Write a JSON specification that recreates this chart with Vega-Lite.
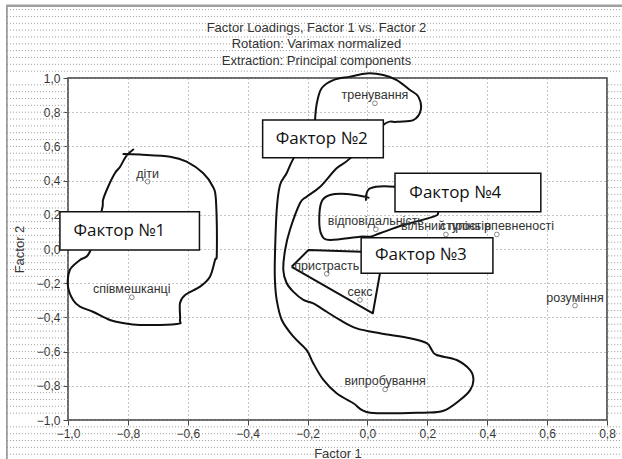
{
  "$schema": "https://vega.github.io/schema/vega-lite/v6.json",
  "width": 539,
  "height": 342,
  "autosize": {"type": "none"},
  "padding": {"left": 68, "top": 78, "right": 15, "bottom": 39},
  "background": "white",
  "title": {
    "text": "Factor Loadings, Factor 1 vs. Factor 2",
    "subtitle": ["Rotation: Varimax normalized", "Extraction: Principal components"],
    "anchor": "middle",
    "dx": -21,
    "offset": -64,
    "font": "Liberation Sans",
    "fontSize": 13,
    "fontWeight": "normal",
    "color": "#333333",
    "subtitleFont": "Liberation Sans",
    "subtitleFontSize": 13,
    "subtitleColor": "#333333",
    "subtitleLineHeight": 17,
    "subtitlePadding": 3
  },
  "config": {
    "view": {"stroke": "#3a3a3a", "strokeWidth": 1.5},
    "axis": {
      "labelFont": "Liberation Sans",
      "labelFontSize": 12,
      "labelColor": "#333333",
      "titleFont": "Liberation Sans",
      "titleFontSize": 13,
      "titleFontWeight": "normal",
      "titleColor": "#333333",
      "tickColor": "#444444",
      "tickSize": 5,
      "domain": false,
      "grid": true,
      "gridColor": "#8a8a8a",
      "gridDash": [1, 3],
      "gridWidth": 1,
      "tickCount": 10,
      "labelExpr": "replace(format(datum.value, '.1f'), '.', ',')"
    },
    "axisX": {"labelPadding": 3, "titlePadding": 8, "labelFlush": false},
    "axisY": {"labelPadding": 3, "titlePadding": 10}
  },
  "datasets": {
    "bg": [
      {"y": 1.40}, {"y": 1.36}, {"y": 1.32}, {"y": 1.28}, {"y": 1.24}, {"y": 1.20}, {"y": 1.16}, {"y": 1.12}, {"y": 1.08}, {"y": 1.04},
      {"y": 0.96}, {"y": 0.92}, {"y": 0.88}, {"y": 0.84}, {"y": 0.80}, {"y": 0.76}, {"y": 0.72}, {"y": 0.68}, {"y": 0.64}, {"y": 0.60},
      {"y": 0.56}, {"y": 0.52}, {"y": 0.48}, {"y": 0.44}, {"y": 0.40}, {"y": 0.36}, {"y": 0.32}, {"y": 0.28}, {"y": 0.24}, {"y": 0.20},
      {"y": 0.16}, {"y": 0.12}, {"y": 0.08}, {"y": 0.04}, {"y": 0.00}, {"y": -0.04}, {"y": -0.08}, {"y": -0.12}, {"y": -0.16}, {"y": -0.20},
      {"y": -0.24}, {"y": -0.28}, {"y": -0.32}, {"y": -0.36}, {"y": -0.40}, {"y": -0.44}, {"y": -0.48}, {"y": -0.52}, {"y": -0.56}, {"y": -0.60},
      {"y": -0.64}, {"y": -0.68}, {"y": -0.72}, {"y": -0.76}, {"y": -0.80}, {"y": -0.84}, {"y": -0.88}, {"y": -0.92}, {"y": -0.96},
      {"y": -1.04}, {"y": -1.08}, {"y": -1.12}, {"y": -1.16}, {"y": -1.20}
    ],
    "points": [
      {"x": -0.734, "y": 0.394, "label": "діти"},
      {"x": -0.787, "y": -0.282, "label": "співмешканці"},
      {"x": 0.025, "y": 0.852, "label": "тренування"},
      {"x": 0.028, "y": 0.115, "label": "відповідальність"},
      {"x": 0.262, "y": 0.085, "label": "вільний простір"},
      {"x": 0.432, "y": 0.085, "label": "ступінь впевненості"},
      {"x": -0.136, "y": -0.145, "label": "пристрасть"},
      {"x": -0.025, "y": -0.298, "label": "секс"},
      {"x": 0.693, "y": -0.331, "label": "розуміння"},
      {"x": 0.059, "y": -0.821, "label": "випробування"}
    ],
    "outlines": [
      {"g": "f1", "i": 1, "x": -0.815, "y": 0.556},
      {"g": "f1", "i": 2, "x": -0.760, "y": 0.552},
      {"g": "f1", "i": 3, "x": -0.659, "y": 0.540},
      {"g": "f1", "i": 4, "x": -0.604, "y": 0.511},
      {"g": "f1", "i": 5, "x": -0.549, "y": 0.444},
      {"g": "f1", "i": 6, "x": -0.516, "y": 0.364},
      {"g": "f1", "i": 7, "x": -0.506, "y": 0.287},
      {"g": "f1", "i": 8, "x": -0.503, "y": -0.023},
      {"g": "f1", "i": 9, "x": -0.509, "y": -0.064},
      {"g": "f1", "i": 10, "x": -0.526, "y": -0.162},
      {"g": "f1", "i": 11, "x": -0.559, "y": -0.220},
      {"g": "f1", "i": 12, "x": -0.609, "y": -0.269},
      {"g": "f1", "i": 13, "x": -0.626, "y": -0.316},
      {"g": "f1", "i": 14, "x": -0.626, "y": -0.415},
      {"g": "f1", "i": 15, "x": -0.637, "y": -0.439},
      {"g": "f1", "i": 16, "x": -0.760, "y": -0.444},
      {"g": "f1", "i": 17, "x": -0.816, "y": -0.433},
      {"g": "f1", "i": 18, "x": -0.860, "y": -0.415},
      {"g": "f1", "i": 19, "x": -0.917, "y": -0.367},
      {"g": "f1", "i": 20, "x": -0.960, "y": -0.337},
      {"g": "f1", "i": 21, "x": -0.983, "y": -0.298},
      {"g": "f1", "i": 22, "x": -1.000, "y": -0.220},
      {"g": "f1", "i": 23, "x": -0.994, "y": -0.123},
      {"g": "f1", "i": 24, "x": -0.960, "y": -0.064},
      {"g": "f1", "i": 25, "x": -0.927, "y": -0.016},
      {"g": "f1", "i": 26, "x": -0.887, "y": 0.228},
      {"g": "f1", "i": 27, "x": -0.883, "y": 0.287},
      {"g": "f1", "i": 28, "x": -0.866, "y": 0.364},
      {"g": "f1", "i": 29, "x": -0.843, "y": 0.444},
      {"g": "f1", "i": 30, "x": -0.826, "y": 0.481},
      {"g": "f1", "i": 31, "x": -0.805, "y": 0.545},
      {"g": "f1", "i": 32, "x": -0.782, "y": 0.582},
      {"g": "f2", "i": 1, "x": -0.175, "y": 0.754},
      {"g": "f2", "i": 2, "x": -0.169, "y": 0.852},
      {"g": "f2", "i": 3, "x": -0.153, "y": 0.940},
      {"g": "f2", "i": 4, "x": -0.114, "y": 0.988},
      {"g": "f2", "i": 5, "x": -0.058, "y": 1.008},
      {"g": "f2", "i": 6, "x": -0.002, "y": 1.027},
      {"g": "f2", "i": 7, "x": 0.053, "y": 1.018},
      {"g": "f2", "i": 8, "x": 0.098, "y": 0.988},
      {"g": "f2", "i": 9, "x": 0.142, "y": 0.930},
      {"g": "f2", "i": 10, "x": 0.170, "y": 0.891},
      {"g": "f2", "i": 11, "x": 0.178, "y": 0.813},
      {"g": "f2", "i": 12, "x": 0.153, "y": 0.754},
      {"g": "f2", "i": 13, "x": 0.098, "y": 0.744},
      {"g": "f2", "i": 14, "x": 0.053, "y": 0.725},
      {"g": "f2", "i": 15, "x": -0.058, "y": 0.530},
      {"g": "f2", "i": 16, "x": -0.103, "y": 0.472},
      {"g": "f2", "i": 17, "x": -0.158, "y": 0.364},
      {"g": "f2", "i": 18, "x": -0.203, "y": 0.306},
      {"g": "f2", "i": 19, "x": -0.225, "y": 0.269},
      {"g": "f2", "i": 20, "x": -0.259, "y": 0.111},
      {"g": "f2", "i": 21, "x": -0.275, "y": -0.006},
      {"g": "f2", "i": 22, "x": -0.281, "y": -0.123},
      {"g": "f2", "i": 23, "x": -0.270, "y": -0.199},
      {"g": "f2", "i": 24, "x": -0.247, "y": -0.251},
      {"g": "f2", "i": 25, "x": -0.214, "y": -0.298},
      {"g": "f2", "i": 26, "x": -0.181, "y": -0.318},
      {"g": "f2", "i": 27, "x": -0.136, "y": -0.367},
      {"g": "f2", "i": 28, "x": -0.092, "y": -0.415},
      {"g": "f2", "i": 29, "x": -0.036, "y": -0.464},
      {"g": "f2", "i": 30, "x": 0.042, "y": -0.493},
      {"g": "f2", "i": 31, "x": 0.142, "y": -0.522},
      {"g": "f2", "i": 32, "x": 0.198, "y": -0.551},
      {"g": "f2", "i": 33, "x": 0.215, "y": -0.591},
      {"g": "f2", "i": 34, "x": 0.231, "y": -0.620},
      {"g": "f2", "i": 35, "x": 0.298, "y": -0.649},
      {"g": "f2", "i": 36, "x": 0.343, "y": -0.708},
      {"g": "f2", "i": 37, "x": 0.354, "y": -0.766},
      {"g": "f2", "i": 38, "x": 0.343, "y": -0.825},
      {"g": "f2", "i": 39, "x": 0.309, "y": -0.883},
      {"g": "f2", "i": 40, "x": 0.254, "y": -0.946},
      {"g": "f2", "i": 41, "x": 0.187, "y": -0.957},
      {"g": "f2", "i": 42, "x": 0.009, "y": -0.957},
      {"g": "f2", "i": 43, "x": -0.047, "y": -0.902},
      {"g": "f2", "i": 44, "x": -0.103, "y": -0.844},
      {"g": "f2", "i": 45, "x": -0.147, "y": -0.766},
      {"g": "f2", "i": 46, "x": -0.181, "y": -0.668},
      {"g": "f2", "i": 47, "x": -0.203, "y": -0.591},
      {"g": "f2", "i": 48, "x": -0.247, "y": -0.513},
      {"g": "f2", "i": 49, "x": -0.286, "y": -0.415},
      {"g": "f2", "i": 50, "x": -0.303, "y": -0.298},
      {"g": "f2", "i": 51, "x": -0.309, "y": -0.181},
      {"g": "f2", "i": 52, "x": -0.309, "y": -0.045},
      {"g": "f2", "i": 53, "x": -0.303, "y": 0.228},
      {"g": "f2", "i": 54, "x": -0.292, "y": 0.374},
      {"g": "f2", "i": 55, "x": -0.270, "y": 0.443},
      {"g": "f2", "i": 56, "x": -0.247, "y": 0.530},
      {"g": "f2", "i": 57, "x": -0.175, "y": 0.754},
      {"g": "f4", "i": 1, "x": -0.005, "y": 0.287},
      {"g": "f4", "i": 2, "x": 0.009, "y": 0.355},
      {"g": "f4", "i": 3, "x": 0.092, "y": 0.364},
      {"g": "f4", "i": 4, "x": 0.242, "y": 0.316},
      {"g": "f4", "i": 5, "x": 0.237, "y": 0.218},
      {"g": "f4", "i": 6, "x": 0.220, "y": 0.189},
      {"g": "f4", "i": 7, "x": 0.120, "y": 0.140},
      {"g": "f4", "i": 8, "x": 0.042, "y": 0.092},
      {"g": "f4", "i": 9, "x": 0.009, "y": 0.072},
      {"g": "f4", "i": 10, "x": -0.025, "y": 0.072},
      {"g": "f4", "i": 11, "x": -0.125, "y": 0.053},
      {"g": "f4", "i": 12, "x": -0.153, "y": 0.082},
      {"g": "f4", "i": 13, "x": -0.161, "y": 0.170},
      {"g": "f4", "i": 14, "x": -0.153, "y": 0.277},
      {"g": "f4", "i": 15, "x": -0.125, "y": 0.316},
      {"g": "f4", "i": 16, "x": -0.069, "y": 0.322},
      {"g": "f4", "i": 17, "x": -0.008, "y": 0.306},
      {"g": "f4", "i": 18, "x": 0.004, "y": 0.300}
    ],
    "triangle": [
      {"i": 1, "x": -0.253, "y": -0.104},
      {"i": 2, "x": -0.197, "y": -0.006},
      {"i": 3, "x": -0.019, "y": -0.016},
      {"i": 4, "x": 0.054, "y": -0.023},
      {"i": 5, "x": 0.018, "y": -0.376},
      {"i": 6, "x": -0.253, "y": -0.104}
    ],
    "boxes": [
      {"x1": -1.027, "x2": -0.561, "y1": 0.218, "y2": -0.006, "tx": -0.982, "ty": 0.106, "label": "Фактор №1"},
      {"x1": -0.350, "x2": 0.053, "y1": 0.754, "y2": 0.534, "tx": -0.306, "ty": 0.643, "label": "Фактор №2"},
      {"x1": 0.092, "x2": 0.579, "y1": 0.443, "y2": 0.218, "tx": 0.140, "ty": 0.330, "label": "Фактор №4"},
      {"x1": -0.021, "x2": 0.419, "y1": 0.066, "y2": -0.142, "tx": 0.025, "ty": -0.038, "label": "Фактор №3"}
    ]
  },
  "layer": [
    {
      "data": {"name": "bg"},
      "transform": [{"filter": "abs(datum.y) > 1.001"}],
      "mark": {"type": "rule", "color": "#9a9a9a", "strokeWidth": 1, "strokeDash": [1, 2]},
      "encoding": {
        "y": {"field": "y", "type": "quantitative", "title": "Factor 2"},
        "x": {"datum": -1.204, "type": "quantitative", "title": "Factor 1"},
        "x2": {"datum": 0.854}
      }
    },
    {
      "data": {"name": "bg"},
      "transform": [{"filter": "abs(datum.y) < 0.999"}],
      "mark": {"type": "rule", "color": "#9a9a9a", "strokeWidth": 1, "strokeDash": [1, 2]},
      "encoding": {
        "y": {"field": "y", "type": "quantitative", "title": "Factor 2"},
        "x": {"datum": -1.204, "type": "quantitative", "title": "Factor 1"},
        "x2": {"datum": -1.0}
      }
    },
    {
      "data": {"name": "bg"},
      "transform": [{"filter": "abs(datum.y) < 0.999"}],
      "mark": {"type": "rule", "color": "#9a9a9a", "strokeWidth": 1, "strokeDash": [1, 2]},
      "encoding": {
        "y": {"field": "y", "type": "quantitative", "title": "Factor 2"},
        "x": {"datum": 0.804, "type": "quantitative", "title": "Factor 1"},
        "x2": {"datum": 0.854}
      }
    },
    {
      "data": {"values": [{}]},
      "mark": {"type": "rule", "color": "#8a8a8a", "strokeWidth": 1.5},
      "encoding": {
        "x": {"datum": -1.204, "type": "quantitative", "title": "Factor 1"},
        "y": {"datum": 1.428, "type": "quantitative", "title": "Factor 2"},
        "y2": {"datum": -1.24}
      }
    },
    {
      "data": {"values": [{}]},
      "mark": {"type": "rule", "color": "#a0a0a0", "strokeWidth": 2.5},
      "encoding": {
        "x": {"datum": -1.204, "type": "quantitative", "title": "Factor 1"},
        "x2": {"datum": 0.854},
        "y": {"datum": 1.422, "type": "quantitative", "title": "Factor 2"}
      }
    },
    {
      "data": {"name": "outlines"},
      "mark": {"type": "line", "color": "#111111", "strokeWidth": 2, "interpolate": "cardinal", "strokeJoin": "round", "strokeCap": "round"},
      "encoding": {
        "x": {"field": "x", "type": "quantitative", "title": "Factor 1"},
        "y": {"field": "y", "type": "quantitative", "title": "Factor 2"},
        "detail": {"field": "g"},
        "order": {"field": "i", "type": "quantitative"}
      }
    },
    {
      "data": {"name": "triangle"},
      "mark": {"type": "line", "color": "#111111", "strokeWidth": 2, "strokeJoin": "round"},
      "encoding": {
        "x": {"field": "x", "type": "quantitative", "title": "Factor 1"},
        "y": {"field": "y", "type": "quantitative", "title": "Factor 2"},
        "order": {"field": "i", "type": "quantitative"}
      }
    },
    {
      "data": {"name": "points"},
      "mark": {"type": "point", "shape": "circle", "size": 22, "filled": false, "stroke": "#444444", "strokeWidth": 0.9},
      "encoding": {
        "x": {"field": "x", "type": "quantitative", "title": "Factor 1", "scale": {"domain": [-1, 0.8], "nice": false, "zero": false}},
        "y": {"field": "y", "type": "quantitative", "title": "Factor 2", "scale": {"domain": [-1, 1], "nice": false, "zero": false}}
      }
    },
    {
      "data": {"name": "points"},
      "mark": {"type": "text", "font": "Liberation Sans", "fontSize": 12.5, "color": "#333333", "baseline": "alphabetic", "align": "center", "dy": -4},
      "encoding": {
        "x": {"field": "x", "type": "quantitative", "title": "Factor 1"},
        "y": {"field": "y", "type": "quantitative", "title": "Factor 2"},
        "text": {"field": "label"}
      }
    },
    {
      "data": {"name": "boxes"},
      "mark": {"type": "rect", "fill": "white", "stroke": "#111111", "strokeWidth": 1.5},
      "encoding": {
        "x": {"field": "x1", "type": "quantitative", "title": "Factor 1"},
        "x2": {"field": "x2"},
        "y": {"field": "y1", "type": "quantitative", "title": "Factor 2"},
        "y2": {"field": "y2"}
      }
    },
    {
      "data": {"name": "boxes"},
      "mark": {"type": "text", "font": "Open Sans", "fontSize": 17, "color": "#111111", "align": "left", "baseline": "middle"},
      "encoding": {
        "x": {"field": "tx", "type": "quantitative", "title": "Factor 1"},
        "y": {"field": "ty", "type": "quantitative", "title": "Factor 2"},
        "text": {"field": "label"}
      }
    }
  ]
}
